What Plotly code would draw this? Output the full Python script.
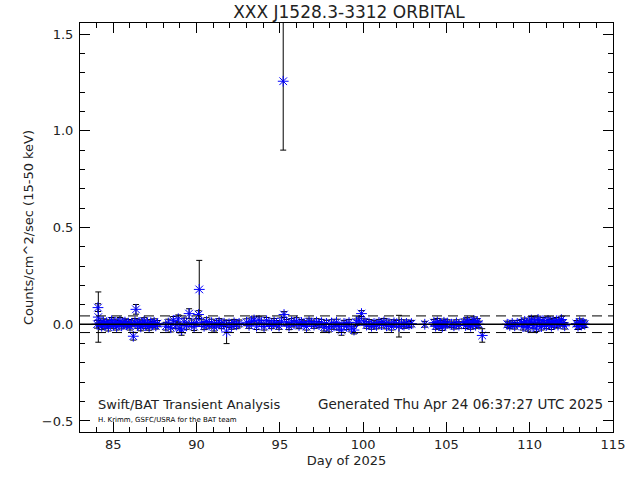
import plotly.graph_objects as go

# ---- data ----
day = [
    84.02, 84.08, 84.10, 84.20, 84.30, 84.40, 84.50, 84.60, 84.70, 84.80,
    84.90, 85.00, 85.10, 85.20, 85.30, 85.40, 85.50, 85.60, 85.70, 85.80,
    85.90, 86.00, 86.10, 86.20, 86.30, 86.36, 86.45, 86.55, 86.65, 86.75,
    86.85, 86.95, 87.05, 87.15, 87.25, 87.35, 87.45, 87.55, 87.65,
    88.15, 88.30, 88.45, 88.60, 88.75, 88.90, 89.00, 89.10, 89.25, 89.40,
    89.55, 89.70, 89.85, 90.00, 90.12, 90.16, 90.30, 90.45, 90.60, 90.75,
    90.90, 91.05, 91.20, 91.35, 91.50, 91.65, 91.80, 91.95, 92.10, 92.25,
    92.40, 92.55,
    93.00, 93.15, 93.30, 93.45, 93.60, 93.75, 93.90, 94.05, 94.20, 94.35,
    94.50, 94.65, 94.80, 94.95, 95.10, 95.20, 95.25, 95.40, 95.55, 95.70,
    95.85, 96.00, 96.15, 96.30, 96.45, 96.60, 96.75, 96.90, 97.05, 97.20,
    97.35, 97.50, 97.65, 97.80, 97.95, 98.10, 98.25, 98.40, 98.55, 98.70,
    98.85, 99.00, 99.15, 99.30, 99.45, 99.60, 99.75, 99.90, 100.05, 100.20,
    100.35, 100.50, 100.65, 100.80, 100.95, 101.10, 101.25, 101.40, 101.55, 101.70,
    101.85, 102.00, 102.15, 102.30, 102.45, 102.60, 102.75, 102.90,
    103.70, 104.25, 104.35, 104.45, 104.55, 104.65, 104.75, 104.85, 104.95, 105.05,
    105.30, 105.45, 105.60, 105.75, 106.05, 106.15, 106.25, 106.35, 106.45, 106.55,
    106.65, 106.75, 106.85, 106.95, 107.15,
    108.65, 108.80, 108.95, 109.10, 109.25, 109.50, 109.60, 109.70, 109.80, 109.90,
    110.00, 110.10, 110.20, 110.30, 110.40, 110.50, 110.60, 110.70, 110.80, 110.90,
    111.00, 111.10, 111.20, 111.30, 111.40, 111.50, 111.60, 111.70, 111.80, 111.90,
    112.00, 112.10, 112.80, 112.90, 113.00, 113.10, 113.20, 113.30,
]
rate = [
    0.000, 0.086, 0.037, 0.005, -0.010, 0.012, -0.004, 0.008, -0.015, 0.003,
    0.018, -0.006, 0.010, -0.012, 0.004, 0.015, -0.008, 0.002, 0.011, -0.003,
    0.006, -0.010, 0.004, -0.062, 0.012, 0.077, -0.005, 0.009, -0.014, 0.003,
    0.016, -0.007, 0.005, -0.012, 0.008, -0.002, 0.010, -0.008, 0.003,
    -0.010, 0.006, -0.018, 0.020, -0.005, 0.028, -0.020, -0.030, 0.012, -0.008,
    0.055, 0.004, -0.012, 0.010, 0.050, 0.180, 0.006, -0.010, 0.014, -0.004,
    0.008, -0.015, 0.003, 0.011, -0.007, 0.005, -0.040, 0.002, -0.009, 0.007,
    -0.003, 0.004,
    0.010, -0.005, 0.015, 0.022, -0.010, 0.020, 0.005, -0.012, 0.018, 0.004,
    -0.006, 0.012, 0.003, -0.009, 0.015, 1.256, 0.050, 0.008, -0.010, 0.012,
    0.002, 0.016, -0.006, 0.009, 0.003, -0.012, 0.014, 0.005, -0.004, 0.011,
    -0.002, 0.008, -0.015, 0.004, -0.020, 0.006, -0.008, 0.010, -0.012, -0.030,
    0.004, -0.010, 0.008, -0.020, -0.030, 0.010, 0.020, 0.055, 0.012, -0.004,
    0.006, -0.010, 0.003, -0.006, 0.009, -0.002, 0.012, -0.008, 0.005, -0.012,
    0.007, 0.002, -0.010, 0.006, -0.005, 0.004, -0.002, 0.003,
    0.000, 0.008, -0.010, 0.012, -0.006, 0.004, -0.014, 0.010, -0.003, 0.006,
    0.000, -0.008, 0.007, -0.004, 0.010, -0.006, 0.016, 0.003, -0.010, 0.008,
    0.020, -0.005, 0.012, 0.000, -0.058,
    0.000, -0.006, 0.004, -0.008, 0.003, 0.008, -0.012, 0.015, 0.002, -0.018,
    0.010, 0.022, -0.008, 0.016, -0.020, 0.025, 0.005, -0.012, 0.018, 0.004,
    -0.006, 0.020, 0.008, -0.010, 0.014, 0.002, 0.018, -0.004, 0.010, 0.024,
    0.006, -0.008, 0.003, -0.010, 0.012, -0.004, 0.006, 0.000,
]
err = [
    0.020, 0.020, 0.130, 0.015, 0.018, 0.016, 0.017, 0.015, 0.020, 0.016,
    0.017, 0.015, 0.016, 0.018, 0.015, 0.020, 0.016, 0.015, 0.017, 0.016,
    0.018, 0.020, 0.017, 0.020, 0.018, 0.025, 0.016, 0.017, 0.020, 0.015,
    0.018, 0.016, 0.017, 0.019, 0.015, 0.016, 0.018, 0.017, 0.016,
    0.020, 0.020, 0.022, 0.020, 0.018, 0.020, 0.022, 0.027, 0.020, 0.018,
    0.025, 0.018, 0.020, 0.018, 0.020, 0.150, 0.017, 0.018, 0.020, 0.016,
    0.018, 0.020, 0.017, 0.018, 0.016, 0.017, 0.060, 0.018, 0.017, 0.018,
    0.020, 0.018,
    0.018, 0.016, 0.018, 0.020, 0.017, 0.018, 0.016, 0.018, 0.017, 0.016,
    0.017, 0.018, 0.016, 0.017, 0.018, 0.356, 0.015, 0.016, 0.018, 0.017,
    0.016, 0.018, 0.017, 0.016, 0.015, 0.018, 0.017, 0.016, 0.017, 0.018,
    0.016, 0.017, 0.020, 0.016, 0.020, 0.017, 0.018, 0.016, 0.018, 0.027,
    0.016, 0.018, 0.017, 0.020, 0.020, 0.017, 0.018, 0.015, 0.016, 0.017,
    0.018, 0.016, 0.017, 0.018, 0.016, 0.017, 0.018, 0.016, 0.017, 0.018,
    0.016, 0.017, 0.056, 0.017, 0.016, 0.018, 0.016, 0.017,
    0.015, 0.017, 0.016, 0.018, 0.017, 0.016, 0.018, 0.017, 0.016, 0.017,
    0.016, 0.017, 0.016, 0.017, 0.017, 0.016, 0.018, 0.017, 0.016, 0.017,
    0.018, 0.016, 0.017, 0.016, 0.035,
    0.016, 0.017, 0.016, 0.017, 0.016, 0.017, 0.018, 0.017, 0.016, 0.018,
    0.017, 0.018, 0.016, 0.017, 0.018, 0.017, 0.016, 0.018, 0.017, 0.016,
    0.017, 0.018, 0.016, 0.017, 0.016, 0.018, 0.017, 0.016, 0.017, 0.018,
    0.016, 0.017, 0.016, 0.017, 0.016, 0.017, 0.016, 0.017,
]
mean_level = 0.0
sigma_level = 0.043

title = "XXX J1528.3-3312 ORBITAL"
xlabel = "Day of 2025"
ylabel = "Counts/cm^2/sec (15-50 keV)"
note_left = "Swift/BAT Transient Analysis"
note_right = "Generated Thu Apr 24 06:37:27 UTC 2025"
note_small = "H. Krimm, GSFC/USRA for the BAT team"

FONT = "DejaVu Sans"

# plot box wanted at x 80..613, y 23..432 on screen (page body margin removed below)
L, R, T, B = 80, 640 - 613, 23, 480 - 432

fig = go.Figure()
fig.add_trace(go.Scatter(
    x=day, y=rate, mode="markers",
    marker=dict(symbol="asterisk-open", size=9, color="blue",
                line=dict(color="blue", width=1)),
    error_y=dict(type="data", array=err, visible=True, color="black",
                 thickness=1, width=3),
    showlegend=False,
))

fig.add_hline(y=mean_level, line=dict(color="black", width=1.5))
fig.add_hline(y=sigma_level, line=dict(color="black", width=1, dash="10px,6px"))
fig.add_hline(y=-sigma_level, line=dict(color="black", width=1, dash="10px,6px"))

axis_common = dict(
    showline=True, linecolor="black", linewidth=1, mirror="ticks",
    ticks="inside", tickcolor="black", ticklen=10, tickwidth=1,
    showgrid=False, zeroline=False, automargin=False,
    tickfont=dict(family=FONT, size=13, color="#222222"),
)

fig.update_xaxes(
    range=[83, 115], tick0=85, dtick=5,
    minor=dict(dtick=1, ticks="inside", ticklen=5, tickcolor="black", tickwidth=1, showgrid=False),
    title=dict(text=xlabel, font=dict(family=FONT, size=13, color="#222222"), standoff=5),
    **axis_common,
)
fig.update_yaxes(
    range=[-0.557, 1.557], tick0=0, dtick=0.5, tickformat=".1f", ticklabelstandoff=3,
    minor=dict(dtick=0.1, ticks="inside", ticklen=5, tickcolor="black", tickwidth=1, showgrid=False),
    title=dict(text=ylabel, font=dict(family=FONT, size=13, color="#222222"), standoff=5),
    **axis_common,
)

plot_w = 613 - 80
plot_h = 432 - 23
fig.add_annotation(text=note_left, xref="paper", yref="paper",
                   x=(96 - 80) / plot_w, y=(432 - 404) / plot_h, xanchor="left", yanchor="middle",
                   showarrow=False, font=dict(family=FONT, size=13, color="#222222"))
fig.add_annotation(text=note_right, xref="paper", yref="paper",
                   x=(605 - 80) / plot_w, y=(432 - 404) / plot_h, xanchor="right", yanchor="middle",
                   showarrow=False, font=dict(family=FONT, size=13.5, color="#222222"))
fig.add_annotation(text=note_small, xref="paper", yref="paper",
                   x=(96 - 80) / plot_w, y=(432 - 420) / plot_h, xanchor="left", yanchor="middle",
                   showarrow=False, font=dict(family=FONT, size=7, color="black"))

fig.update_layout(
    width=640, height=480,
    margin=dict(l=L, r=R, t=T, b=B, autoexpand=False),
    paper_bgcolor="white", plot_bgcolor="white",
    title=dict(text=title, x=349 / 640, xanchor="center", y=1 - 12 / 480,
               yanchor="middle",
               font=dict(family=FONT, size=17, color="#222222")),
)

fig.write_html("out.html", config={"displayModeBar": False},
               post_script="document.body.style.margin='0';")
